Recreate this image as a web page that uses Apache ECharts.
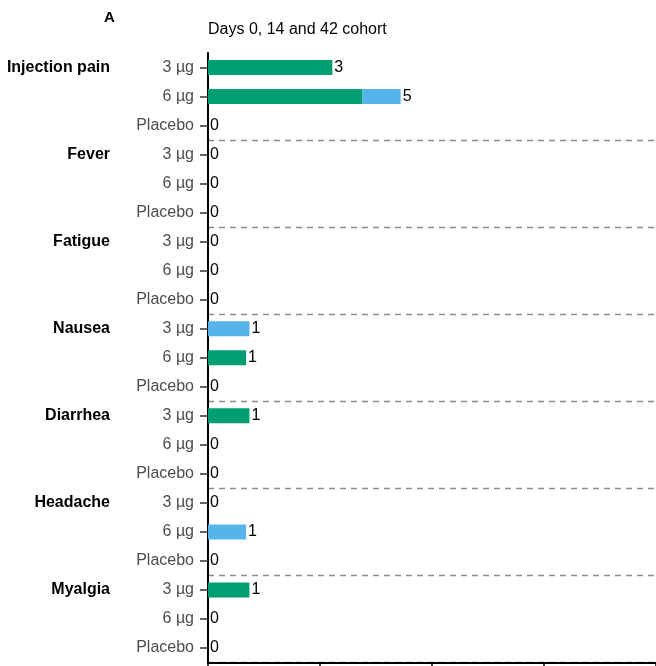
<!DOCTYPE html>
<html>
<head>
<meta charset="utf-8">
<script src="https://cdn.jsdelivr.net/npm/echarts@6/dist/echarts.min.js"></script>
<style>html,body{margin:0;padding:0;background:#fff}#c{width:656px;height:666px}</style>
</head>
<body>
<div id="c"></div>
<script>
const symptoms = ['Injection pain','Fever','Fatigue','Nausea','Diarrhea','Headache','Myalgia'];
const doses = ['3 µg','6 µg','Placebo'];
// bar lengths (% of participants)
const grade1Pct = [11.1,13.8,0, 0,0,0, 0,0,0, 0,3.4,0, 3.7,0,0, 0,0,0, 3.7,0,0];
const grade2Pct = [0,3.4,0, 0,0,0, 0,0,0, 3.7,0,0, 0,0,0, 0,3.4,0, 0,0,0];
// count labels shown at bar ends
const totalCounts = [3,5,0, 0,0,0, 0,0,0, 1,1,0, 1,0,0, 0,1,0, 1,0,0];
const xTicks = [0,10,20,30,40];

const rows = [];
const groupNames = [];
symptoms.forEach(s => doses.forEach(d => { rows.push(d); groupNames.push(s); }));

const FONT = 'Liberation Sans, Arial, sans-serif';
const chart = echarts.init(document.getElementById('c'));
chart.setOption({
  animation: false,
  textStyle: {fontFamily: FONT},
  title: [
    {text: 'A', left: 99, top: 5, textStyle: {fontFamily: FONT, fontSize: 15, fontWeight: 'bold', color: '#000'}},
    {text: 'Days 0, 14 and 42 cohort', left: 203, top: 17, textStyle: {fontFamily: FONT, fontSize: 16, fontWeight: 'normal', color: '#000'}}
  ],
  grid: {left: 208, top: 53, width: 448, bottom: 3.5, containLabel: false},
  xAxis: {
    type: 'value', min: xTicks[0], max: xTicks[xTicks.length-1], interval: 10,
    axisLine: {show: true, lineStyle: {color: '#000', width: 2}},
    axisTick: {show: true, length: 5, lineStyle: {color: '#000', width: 1.5}},
    axisLabel: {show: false},
    splitLine: {show: false}
  },
  yAxis: [
    {
      type: 'category', data: rows, inverse: true,
      axisLine: {show: true, lineStyle: {color: '#000', width: 2}},
      axisTick: {show: true, alignWithLabel: true, length: 8, lineStyle: {color: '#333', width: 1.5}},
      axisLabel: {color: '#4d4d4d', fontSize: 16, fontFamily: FONT, margin: 14},
      splitLine: {show: true, interval: (i) => i > 0 && i % 3 === 0,
        lineStyle: {color: '#8c8c8c', type: [6, 5], width: 1.3}}
    },
    {
      type: 'category', data: groupNames, inverse: true, position: 'left', offset: 90,
      axisLine: {show: false}, axisTick: {show: false}, splitLine: {show: false},
      axisLabel: {interval: 0, color: '#000', fontSize: 16, fontWeight: 'bold', fontFamily: FONT, margin: 8,
        formatter: (v, i) => (i % 3 === 0 ? v : '')}
    }
  ],
  series: [
    {type: 'bar', stack: 'a', data: grade1Pct, barWidth: 15, itemStyle: {color: '#009E73'}},
    {type: 'bar', stack: 'a', data: grade2Pct, barWidth: 15, itemStyle: {color: '#56B4E9'}},
    {type: 'bar', stack: 'a', data: totalCounts.map(() => 0), barWidth: 15, itemStyle: {color: 'transparent'},
      label: {show: true, position: 'right', distance: 2, color: '#000', fontSize: 16, fontFamily: FONT,
        formatter: (p) => String(totalCounts[p.dataIndex])}}
  ]
});
</script>
</body>
</html>
